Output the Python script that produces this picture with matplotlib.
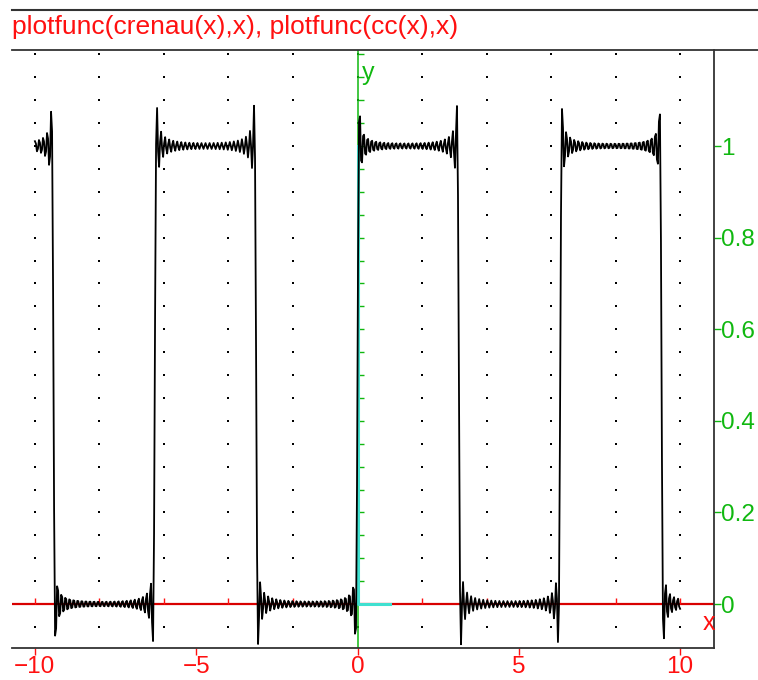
"""Square wave (crenau) and its Fourier partial sum cc(x), Xcas style."""

import numpy as np
import matplotlib
matplotlib.use("Agg")
import matplotlib.pyplot as plt
from matplotlib.lines import Line2D

plt.rcParams["font.family"] = ["Liberation Sans", "DejaVu Sans"]

# Odd harmonics kept in the partial sum cc(x)
harmonics = [1, 3, 5, 7, 9, 11, 13, 15, 17, 19, 21, 23, 25,
             27, 29, 31, 33, 35, 37, 39, 41, 43, 45, 47, 49]

# crenau(x) as drawn (cyan trace)
crenau_x = [0, 0, 1]
crenau_y = [1, 0, 0]

x_ticks = [-10, -5, 0, 5, 10]
y_ticks = [0, 0.2, 0.4, 0.6, 0.8, 1]
y_tick_labels = ["0", "0.2", "0.4", "0.6", "0.8", "1"]

title = "plotfunc(crenau(x),x), plotfunc(cc(x),x)"

RED = "#ff1010"
GREEN = "#10b810"
FRAME = "#333333"

# partial Fourier sum on [-10, 10]
xs = np.linspace(-10, 10, 640)
cc = 0.5 + 2 / np.pi * sum(np.sin(k * xs) / k for k in harmonics)

W, H = 758, 680
fig = plt.figure(figsize=(W / 100, H / 100), dpi=100)
ax = fig.add_axes([12 / W, 32 / H, 702 / W, 598 / H])
ax.set_xlim(-10.71, 11.05)
ax.set_ylim(-0.096, 1.2096)

# frame: right and bottom only, top line is drawn across the figure
ax.spines["left"].set_visible(False)
ax.spines["top"].set_visible(False)
for side in ("right", "bottom"):
    ax.spines[side].set_color(FRAME)
    ax.spines[side].set_linewidth(1.3)
fig.add_artist(Line2D([12 / W, 1], [1 - 50 / H, 1 - 50 / H],
                      color=FRAME, lw=1.3))
fig.add_artist(Line2D([12 / W, 1], [1 - 10 / H, 1 - 10 / H],
                      color=FRAME, lw=1.5))

fig.text(12 / W, 1 - 34 / H, title, color=RED, fontsize=19,
         va="baseline", ha="left")

# dotted grid
gx, gy = np.meshgrid(np.arange(-10, 10.1, 2), np.arange(-0.05, 1.21, 0.05))
ax.scatter(gx.ravel(), gy.ravel(), s=1.5, color="black", marker="s",
           linewidths=0, zorder=1)

# axes through the origin
ax.axhline(0, color="#d80000", lw=1.6, zorder=2)
ax.axvline(0, color=GREEN, lw=1.1, zorder=2)
ax.vlines(np.arange(-10, 10.1, 2), 0, 0.013, color=RED, lw=1, zorder=2)
ax.hlines(np.arange(0.05, 1.21, 0.05), 0, 0.2, color=GREEN, lw=1, zorder=2)

ax.plot(crenau_x, crenau_y, color="#40e0d0", lw=2.2, zorder=3)
ax.plot(xs, cc, color="black", lw=1.3, zorder=4)

ax.text(0.12, 1.16, "y", color=GREEN, fontsize=18, ha="left", va="center")
ax.text(10.9, -0.041, "x", color=RED, fontsize=18, ha="center", va="center")

ax.set_xticks(x_ticks)
ax.set_xticklabels([f"{v}".replace("-", "\u2212") for v in x_ticks])
ax.tick_params(axis="x", colors=RED, labelsize=17.5, length=5, width=1,
               direction="out", pad=1)
ax.yaxis.tick_right()
ax.set_yticks(y_ticks)
ax.set_yticklabels(y_tick_labels)
ax.tick_params(axis="y", colors=GREEN, labelsize=17.5, length=5, width=1,
               direction="out", pad=0)

fig.savefig("out.png", dpi=100)
